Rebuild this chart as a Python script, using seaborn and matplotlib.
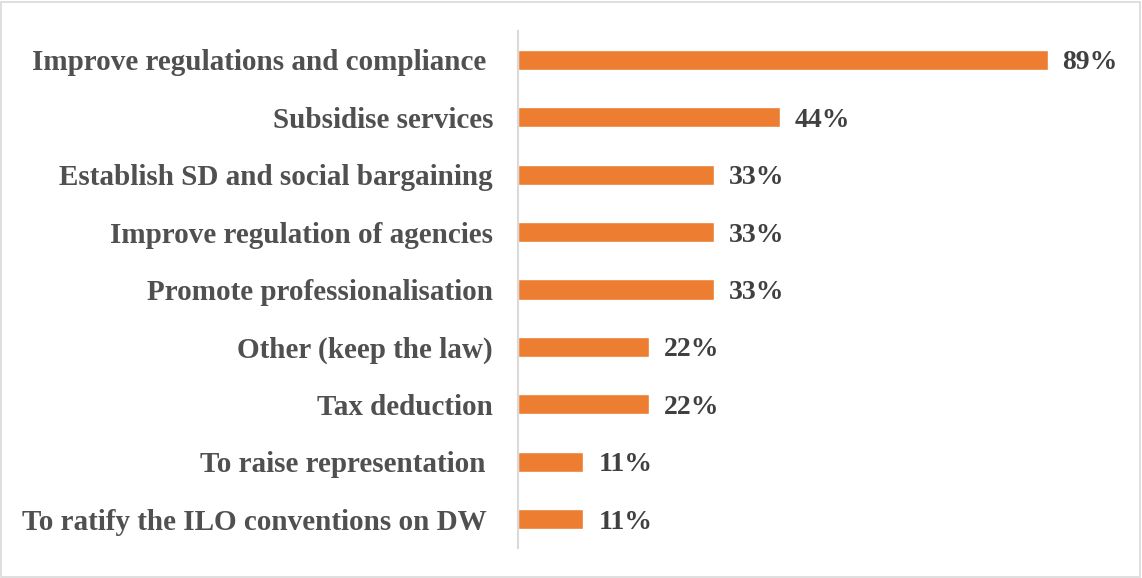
import matplotlib
matplotlib.use("Agg")
import matplotlib.pyplot as plt
import seaborn as sns
import pandas as pd
from matplotlib.patches import Rectangle

categories = [
    "Improve regulations and compliance ",
    "Subsidise services",
    "Establish SD and social bargaining",
    "Improve regulation of agencies",
    "Promote professionalisation",
    "Other (keep the law)",
    "Tax deduction",
    "To raise representation ",
    "To ratify the ILO conventions on DW ",
]
values = [89, 44, 33, 33, 33, 22, 22, 11, 11]

df = pd.DataFrame({"category": categories, "value": values})

sns.set_theme(style="white")
plt.rcParams["font.family"] = ["Liberation Serif", "DejaVu Serif"]

fig = plt.figure(figsize=(11.42, 5.78), dpi=100)
ax = fig.add_axes([0.4536, 0.0519, 0.521, 0.8945])

sns.barplot(data=df, x="value", y="category", orient="h", color="#ED7D31",
            saturation=1, width=0.35, ax=ax)

ax.set_xlim(0, 100)
ax.set_ylim(8.5, -0.5)
ax.set_xlabel("")
ax.set_ylabel("")
ax.set_xticks([])
ax.tick_params(axis="y", length=0, pad=18)
for lbl in ax.get_yticklabels():
    lbl.set_fontsize(21)
    lbl.set_fontweight("bold")
    lbl.set_color("#505050")

for s in ["top", "right", "bottom"]:
    ax.spines[s].set_visible(False)
ax.spines["left"].set_color("#d9d9d9")
ax.spines["left"].set_linewidth(1.5)

for i, v in enumerate(values):
    ax.text(v + 2.5, i, f"{v}%", va="center_baseline", ha="left", fontsize=20,
            fontweight="bold", color="#404040")

fig.patches.append(Rectangle((0.001, 0.002), 0.997, 0.995, transform=fig.transFigure,
                             fill=False, edgecolor="#d9d9d9", linewidth=1.2))

fig.savefig("out.png", dpi=100, facecolor="white")
